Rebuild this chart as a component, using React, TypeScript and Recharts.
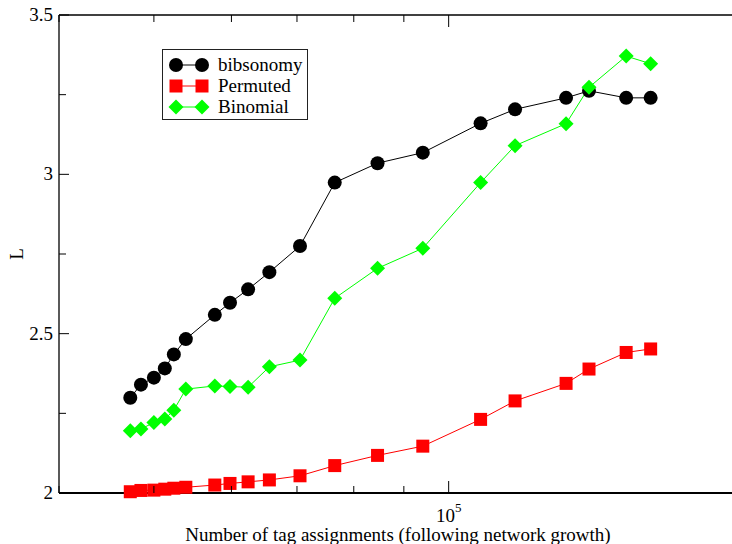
import { LineChart, Line, XAxis, YAxis, Legend } from "recharts";

// number of tag assignments at each snapshot (shared by all three series)
const tagAssignments = [
    47300, 48500, 50000, 51300, 52400, 53900, 57700, 59800, 62400, 65600,
    70500, 76500, 84600, 94100, 107800, 116900, 131800, 139100, 151800, 160800,
];
const bibsonomy = [
    2.299, 2.34, 2.362, 2.391, 2.435, 2.483, 2.559, 2.597, 2.639, 2.693,
    2.775, 2.974, 3.035, 3.068, 3.16, 3.204, 3.24, 3.262, 3.24, 3.24,
];
const permuted = [
    2.004, 2.008, 2.009, 2.012, 2.015, 2.018, 2.025, 2.03, 2.035, 2.041,
    2.054, 2.086, 2.118, 2.147, 2.231, 2.289, 2.344, 2.389, 2.441, 2.452,
];
const binomial = [
    2.195, 2.201, 2.221, 2.232, 2.26, 2.326, 2.336, 2.334, 2.332, 2.396,
    2.417, 2.611, 2.705, 2.768, 2.974, 3.09, 3.159, 3.273, 3.371, 3.347,
];

const xTicks = [40000, 50000, 60000, 70000, 80000, 90000, 100000];
const yTicks = [2, 2.25, 2.5, 2.75, 3, 3.25, 3.5];
const yLabelled = [2, 2.5, 3, 3.5];

const rows = tagAssignments.map((x, i) => ({
    x,
    bibsonomy: bibsonomy[i],
    permuted: permuted[i],
    binomial: binomial[i],
}));

const FONT = "'Liberation Serif', 'Times New Roman', Times, serif";
const textStyle = { fontFamily: FONT, fontSize: 19 };
const GREEN = "#00ff00";
const RED = "#ff0000";

/* markers */
function SquareDot({ cx, cy, index }: any) {
    return <rect key={`sq-${index}`} x={cx - 6.5} y={cy - 6.5} width={13} height={13} fill={RED} />;
}

function DiamondDot({ cx, cy, index }: any) {
    return (
        <polygon key={`dm-${index}`}
            points={`${cx},${cy - 7.5} ${cx + 7.5},${cy} ${cx},${cy + 7.5} ${cx - 7.5},${cy}`}
            fill={GREEN} />
    );
}

/* inward ticks on all four sides of the frame */
function LeftTick({ x, y, payload }: any) {
    const major = yLabelled.includes(payload.value);
    return (
        <g>
            <line x1={x} x2={x + (major ? 10 : 7)} y1={y} y2={y} stroke="#000" />
            {major && (
                <text x={x - 6} y={y + 6} textAnchor="end" style={textStyle} fill="#000">
                    {payload.value}
                </text>
            )}
        </g>
    );
}

function RightTick({ x, y, payload }: any) {
    const major = yLabelled.includes(payload.value);
    return <line x1={x} x2={x - (major ? 10 : 7)} y1={y} y2={y} stroke="#000" />;
}

function BottomTick({ x, y, payload }: any) {
    const major = payload.value === 100000;
    return (
        <g>
            <line x1={x} x2={x} y1={y} y2={y - (major ? 12 : 7)} stroke="#000" />
            {major && (
                <text x={x} y={y + 29} textAnchor="middle" style={textStyle} fill="#000">
                    10<tspan dy={-10} style={{ fontSize: 13 }}>5</tspan>
                </text>
            )}
        </g>
    );
}

function TopTick({ x, y, payload }: any) {
    const major = payload.value === 100000;
    return <line x1={x} x2={x} y1={y} y2={y + (major ? 12 : 7)} stroke="#000" />;
}

function XTitle({ viewBox }: any) {
    return (
        <text x={viewBox.x + viewBox.width / 2} y={541} textAnchor="middle" style={textStyle} fill="#000">
            Number of tag assignments (following network growth)
        </text>
    );
}

function YTitle() {
    return (
        <text x={23} y={254} transform="rotate(-90 23 254)" textAnchor="middle" style={textStyle} fill="#000">
            L
        </text>
    );
}

const legendItems = [
    { name: "bibsonomy", color: "#000", shape: "circle" },
    { name: "Permuted", color: RED, shape: "square" },
    { name: "Binomial", color: GREEN, shape: "diamond" },
];

function LegendMarker({ shape, color, cx, cy }: { shape: string; color: string; cx: number; cy: number }) {
    if (shape === "circle") return <circle cx={cx} cy={cy} r={7} fill={color} />;
    if (shape === "square") return <rect x={cx - 6.5} y={cy - 6.5} width={13} height={13} fill={color} />;
    return <polygon points={`${cx},${cy - 7.5} ${cx + 7.5},${cy} ${cx},${cy + 7.5} ${cx - 7.5},${cy}`} fill={color} />;
}

function LegendBox() {
    return (
        <svg width={146} height={71} style={{ display: "block" }}>
            <rect x={0.5} y={0.5} width={145} height={70} fill="#fff" stroke="#222" />
            {legendItems.map((item, i) => {
                const cy = 16 + i * 21;
                return (
                    <g key={item.name}>
                        <line x1={14} x2={40} y1={cy} y2={cy} stroke={item.color} />
                        <LegendMarker shape={item.shape} color={item.color} cx={14} cy={cy} />
                        <LegendMarker shape={item.shape} color={item.color} cx={40} cy={cy} />
                        <text x={56} y={cy + 6} style={textStyle} fill="#000">
                            {item.name}
                        </text>
                    </g>
                );
            })}
        </svg>
    );
}

export default function App() {
    return (
        <div style={{ position: "absolute", left: 0, top: 0, width: 732, height: 544, overflow: "hidden", background: "#fff" }}>
            <LineChart width={760} height={544} data={rows}
                margin={{ top: 14, right: 22, bottom: 50, left: 58 }}>

                <XAxis dataKey="x" type="number" scale="log"
                    domain={[40000, 197000]}
                    ticks={xTicks}
                    height={1}
                    tickSize={0}
                    tickMargin={0}
                    interval={0}
                    axisLine={{ stroke: "#000", strokeWidth: 2 }}
                    tick={<BottomTick />}
                    label={XTitle} />

                <XAxis xAxisId="top" orientation="top" dataKey="x" type="number" scale="log"
                    domain={[40000, 197000]}
                    ticks={xTicks}
                    height={1}
                    tickSize={0}
                    tickMargin={0}
                    interval={0}
                    axisLine={{ stroke: "#000", strokeWidth: 1.5 }}
                    tick={<TopTick />} />

                <YAxis type="number" domain={[2, 3.5]}
                    ticks={yTicks}
                    width={1}
                    tickSize={0}
                    tickMargin={0}
                    interval={0}
                    axisLine={{ stroke: "#000", strokeWidth: 1.3 }}
                    tick={<LeftTick />}
                    label={YTitle} />

                <YAxis yAxisId="right" orientation="right" type="number" domain={[2, 3.5]}
                    ticks={yTicks}
                    width={1}
                    tickSize={0}
                    tickMargin={0}
                    interval={0}
                    axisLine={{ stroke: "#000", strokeWidth: 1.3 }}
                    tick={<RightTick />} />

                <Legend layout="vertical" align="center" verticalAlign="middle"
                    wrapperStyle={{ position: "absolute", left: 162, top: 49, width: 146, height: 71 }}
                    content={() => <LegendBox />} />

                <Line dataKey="bibsonomy" stroke="#000" strokeWidth={1}
                    dot={{ r: 7, fill: "#000", stroke: "none" }}
                    activeDot={false}
                    isAnimationActive={false} />

                <Line dataKey="permuted" stroke={RED} strokeWidth={1}
                    dot={SquareDot}
                    activeDot={false}
                    isAnimationActive={false} />

                <Line dataKey="binomial" stroke={GREEN} strokeWidth={1}
                    dot={DiamondDot}
                    activeDot={false}
                    isAnimationActive={false} />
            </LineChart>
        </div>
    );
}
